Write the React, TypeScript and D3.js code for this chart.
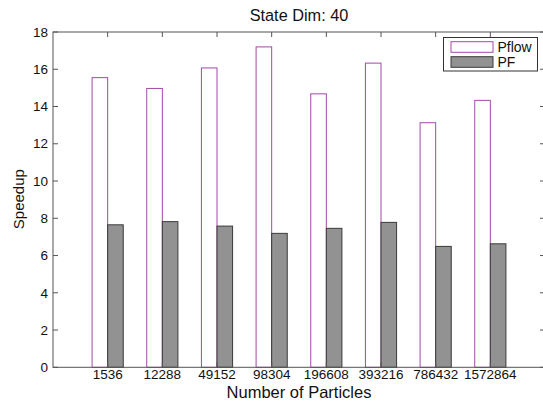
import React from "react";
import * as d3 from "d3";

const categories = ["1536", "12288", "49152", "98304", "196608", "393216", "786432", "1572864"];
const pflowValues = [15.55, 14.97, 16.07, 17.2, 14.68, 16.33, 13.13, 14.33];
const pfValues = [7.65, 7.82, 7.58, 7.19, 7.46, 7.78, 6.49, 6.63];
const yTickValues = [0, 2, 4, 6, 8, 10, 12, 14, 16, 18];
const seriesNames = ["Pflow", "PF"];

const W = 543;
const H = 404;
const FONT = "'Liberation Sans', Arial, Helvetica, sans-serif";

export default function App() {
  const left = 53;
  const right = 545;
  const top = 32;
  const bottom = 367.3;
  const x = d3.scaleLinear().domain([0, categories.length + 1]).range([left, right]);
  const y = d3.scaleLinear().domain([0, 18]).range([bottom, top]);
  const bw = x(0.285) - x(0);
  const axisColor = "#555";
  const tickLen = 5;

  return (
    <svg
      width={W}
      height={H}
      style={{ position: "absolute", left: 0, top: 0, background: "#fff" }}
      fontFamily={FONT}
    >
      <rect x={0} y={0} width={W} height={H} fill="#fff" />
      {/* bars */}
      {categories.map((c, i) => {
        const cx = x(i + 1);
        return (
          <g key={c}>
            <rect
              x={cx - bw}
              y={y(pflowValues[i])}
              width={bw}
              height={y(0) - y(pflowValues[i])}
              fill="#fff"
              stroke="#a448a8"
              strokeWidth={1}
            />
            <rect
              x={cx}
              y={y(pfValues[i])}
              width={bw}
              height={y(0) - y(pfValues[i])}
              fill="#929292"
              stroke="#3a3a3a"
              strokeWidth={1}
            />
          </g>
        );
      })}
      {/* box */}
      <rect x={left} y={top} width={right - left} height={bottom - top} fill="none" stroke={axisColor} strokeWidth={1} />
      {/* y ticks */}
      {yTickValues.map((t) => (
        <g key={t}>
          <line x1={left} x2={left + tickLen} y1={y(t)} y2={y(t)} stroke={axisColor} />
          <line x1={right} x2={right - tickLen} y1={y(t)} y2={y(t)} stroke={axisColor} />
          <text x={left - 5} y={y(t)} dy="0.35em" textAnchor="end" fontSize={13.5} fill="#111">
            {t}
          </text>
        </g>
      ))}
      {/* x ticks */}
      {categories.map((c, i) => (
        <g key={c}>
          <line x1={x(i + 1)} x2={x(i + 1)} y1={top} y2={top + tickLen} stroke={axisColor} />
          <line x1={x(i + 1)} x2={x(i + 1)} y1={bottom} y2={bottom - tickLen} stroke={axisColor} />
          <text x={x(i + 1)} y={bottom + 11.5} textAnchor="middle" fontSize={13.5} fill="#111">
            {c}
          </text>
        </g>
      ))}
      {/* title and labels */}
      <text x={(left + right) / 2} y={20.5} textAnchor="middle" fontSize={16.3} fill="#111">
        State Dim: 40
      </text>
      <text x={(left + right) / 2} y={397.5} textAnchor="middle" fontSize={16.5} fill="#111">
        Number of Particles
      </text>
      <text
        transform={`translate(23.5, ${(top + bottom) / 2 - 0.5}) rotate(-90)`}
        textAnchor="middle"
        fontSize={15}
        fill="#111"
      >
        Speedup
      </text>
      {/* legend */}
      <g>
        <rect x={443.5} y={37.5} width={94} height={33.5} fill="#fff" stroke="#333" strokeWidth={1} />
        <rect x={451} y={41.7} width={42} height={10.6} fill="#fff" stroke="#a448a8" />
        <rect x={451} y={56.7} width={42} height={10.6} fill="#929292" stroke="#3a3a3a" />
        <text x={497.5} y={47} dy="0.35em" fontSize={14} fill="#111">
          {seriesNames[0]}
        </text>
        <text x={497.5} y={62} dy="0.35em" fontSize={14} fill="#111">
          {seriesNames[1]}
        </text>
      </g>
    </svg>
  );
}
